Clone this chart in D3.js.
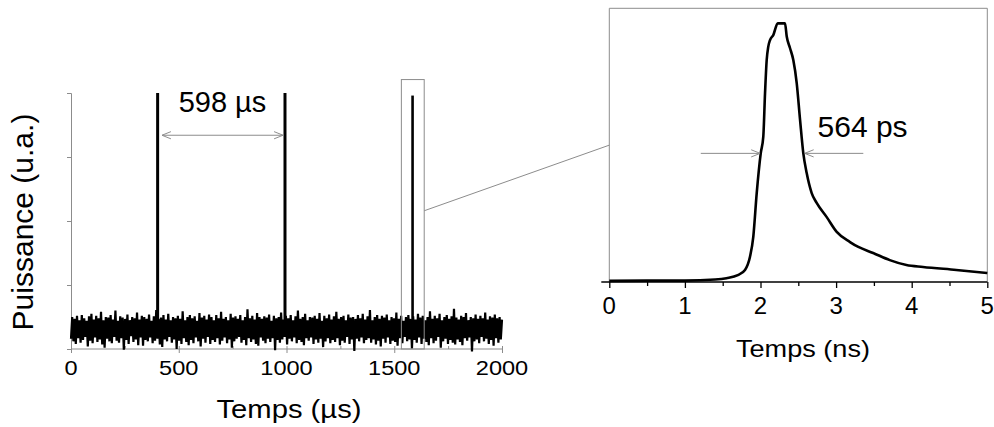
<!DOCTYPE html>
<html><head><meta charset="utf-8">
<script src="https://cdn.jsdelivr.net/npm/d3@7"></script>
<style>body{margin:0;background:#fff}svg{display:block}text{font-family:"Liberation Sans",Arial,sans-serif;fill:#000}</style>
</head><body><svg id="c" width="994" height="427"></svg>
<script>
// ---- Left panel data: pulse train (time in µs, power in a.u.) ----
const trainTicks = [0, 500, 1000, 1500, 2000];
const trainNoiseStep = 2000 / 359; // sampling step of the noise trace (µs)
const trainNoise = [
.16,.50,.12,.47,.08,.52,.17,.45,.10,.53,.14,.48,.19,.44,.04,.51,.13,.55,.09,.46,
.18,.52,.11,.48,.15,.58,.07,.45,.02,.50,.16,.49,.12,.53,.09,.46,.19,.60,.13,.44,
.10,.51,.17,.49,-.01,.47,.14,.54,.08,.45,.20,.50,.11,.48,.15,.57,.06,.46,.18,.52,
.05,.50,.14,.47,.12,.54,.18,.44,.09,.51,.13,.61,.16,.47,.07,.49,.03,.53,.15,.46,
.12,.55,.19,.45,.10,.50,.15,.48,.00,.52,.13,.47,.08,.59,.17,.45,.11,.50,.06,.53,
.14,.48,.09,.51,.18,.44,.12,.56,.04,.49,.16,.52,.10,.46,.19,.54,.08,.50,.14,.45,
.11,.53,.17,.48,.07,.58,.13,.47,.18,.50,.09,.45,.15,.55,.02,.49,.12,.51,.16,.47,
.19,.53,.10,.45,.14,.50,.06,.62,.17,.48,.11,.52,.15,.46,.08,.56,.05,.50,.18,.47,
.13,.51,.09,.49,.16,.54,.11,.44,.17,.52,-.02,.48,.14,.50,.10,.57,.15,.46,.19,.52,
.07,.48,.16,.53,.12,.45,.18,.51,.09,.60,.14,.47,.11,.50,.06,.55,.17,.45,.13,.50,
.18,.49,.08,.52,.15,.47,.10,.56,.16,.44,.03,.52,.12,.48,.17,.54,.09,.46,.14,.51,
.11,.58,.17,.47,.06,.50,.13,.52,.10,.45,.19,.54,.08,.49,.15,.50,-.03,.47,.16,.53,
.12,.48,.18,.55,.09,.46,.14,.51,.17,.61,.10,.45,.15,.50,.07,.53,.13,.47,.04,.52,
.16,.49,.10,.54,.18,.45,.08,.50,.13,.48,.11,.57,.05,.47,.17,.52,.09,.44,.19,.50,
.12,.53,.15,.47,.01,.51,.14,.46,.10,.55,.18,.49,.08,.52,.16,.45,.11,.50,.06,.59,
.17,.47,.09,.52,.13,.48,.19,.55,.02,.45,.12,.50,.16,.53,.08,.47,.14,.51,.10,.63,
.07,.49,.15,.46,.11,.52,.06,.50,.17,.56,.13,.45,.18,.50,-.04,.48,.12,.54,.15,.47,
.09,.52,.19,.48,.12,.57,.16,.46,.08,.51,.14,.49,.05,.54,.17,.48,.10,.50,.15,.46
];
const peakTimes = [402, 993, 1585];
const peakValues = [4.0, 4.0, 3.96];
const peakBase = 0.35;
const periodArrow = [424, 982];   // µs
const periodArrowLevel = 3.34;
const periodLabel = "598 µs";
const zoomBox = [1533, 1639, 0, 4.21]; // t0, t1, v0, v1
const zoomFrom = [1639, 2.16];

// ---- Right panel data: single pulse (time in ns) ----
const pulseTicks = [0, 1, 2, 3, 4, 5];
const pulseTime = [0,0.5,1.0,1.4,1.55,1.7,1.795,1.861,1.905,1.95,2.003,2.037,2.06,2.082,2.103,2.126,2.169,2.228,2.324,2.347,2.39,2.434,2.479,2.523,2.566,2.611,2.677,2.743,2.876,3.008,3.184,3.294,3.49,3.71,3.93,4.15,4.59,5.0];
const pulseValue = [0.004,0.005,0.005,0.009,0.014,0.025,0.044,0.092,0.166,0.325,0.47,0.531,0.69,0.811,0.86,0.884,0.902,0.945,0.945,0.897,0.855,0.811,0.727,0.593,0.471,0.398,0.325,0.289,0.237,0.183,0.146,0.128,0.106,0.08,0.062,0.055,0.044,0.033];
const fwhmLeft = [1.21, 1.99];
const fwhmRight = [3.36, 2.59];
const fwhmLevel = 0.47;
const fwhmLabel = "564 ps";
const zoomTo = [0, 0.5];

const svg = d3.select("#c");
const grey = "#8c8c8c";

svg.append("defs").append("marker").attr("id","arr").attr("viewBox","0 0 10 10")
  .attr("refX",9.5).attr("refY",5).attr("markerWidth",9).attr("markerHeight",9)
  .attr("markerUnits","userSpaceOnUse").attr("orient","auto-start-reverse")
  .append("path").attr("d","M0,1 L10,5 L0,9").attr("fill","none").attr("stroke",grey).attr("stroke-width",1.1);

// ===== Left panel =====
const xL = d3.scaleLinear().domain([0,2000]).range([71,502]);
const yL = d3.scaleLinear().domain([0,4]).range([349,93]);

const gyL = svg.append("g").attr("transform",`translate(${xL(0)},0)`)
  .call(d3.axisLeft(yL).tickValues([0,1,2,3,4]).tickSize(4).tickFormat(""));
gyL.selectAll("path,line").attr("stroke",grey);

const gxL = svg.append("g").attr("transform",`translate(0,${yL(0)})`)
  .call(d3.axisBottom(xL).tickValues(trainTicks).tickSize(4).tickFormat(""));
gxL.selectAll("path,line").attr("stroke",grey);
gxL.select(".domain").attr("d",`M${xL(0)},0H${xL(2000)}`);
gxL.selectAll(".tick line").attr("y1",-3);
svg.append("g").attr("transform",`translate(0,${yL(0)})`)
  .call(d3.axisBottom(xL).tickValues([250,750,1250,1750]).tickSize(-3).tickFormat(""))
  .call(g=>g.select(".domain").remove()).selectAll("line").attr("stroke",grey);
svg.append("g").selectAll("text").data(trainTicks).join("text")
  .attr("transform",d=>`translate(${xL(d)},375) scale(1.15,1)`)
  .attr("text-anchor","middle").attr("font-size",20.5).text(d=>d);

const noiseLine = d3.line().x((d,i)=>xL(i*trainNoiseStep)).y(d=>yL(d));
svg.append("path").datum(trainNoise).attr("d",noiseLine)
  .attr("fill","none").attr("stroke","#000").attr("stroke-width",2.2);

svg.append("g").selectAll("line").data(peakTimes).join("line")
  .attr("x1",d=>xL(d)).attr("x2",d=>xL(d))
  .attr("y1",yL(peakBase)).attr("y2",(d,i)=>yL(peakValues[i]))
  .attr("stroke","#000").attr("stroke-width",(d,i)=>i<2?3:2.6);

svg.append("line").attr("x1",xL(periodArrow[0])).attr("x2",xL(periodArrow[1]))
  .attr("y1",yL(periodArrowLevel)).attr("y2",yL(periodArrowLevel))
  .attr("stroke",grey).attr("stroke-width",1)
  .attr("marker-start","url(#arr)").attr("marker-end","url(#arr)");
svg.append("text").attr("x",xL(703)).attr("y",yL(3.70)).attr("text-anchor","middle")
  .attr("font-size",29).text(periodLabel);

svg.append("rect").attr("x",xL(zoomBox[0])).attr("y",yL(zoomBox[3]))
  .attr("width",xL(zoomBox[1])-xL(zoomBox[0])).attr("height",yL(zoomBox[2])-yL(zoomBox[3]))
  .attr("fill","none").attr("stroke",grey).attr("stroke-width",1);

svg.append("text").attr("transform","translate(289,418)").attr("text-anchor","middle")
  .attr("font-size",25).attr("textLength",145).attr("lengthAdjust","spacingAndGlyphs").text("Temps (µs)");
svg.append("text").attr("transform","translate(33,222) rotate(-90)").attr("text-anchor","middle")
  .attr("font-size",30).text("Puissance (u.a.)");

// ===== Right panel =====
const xR = d3.scaleLinear().domain([0,5]).range([609.3,987.3]);
const yR = d3.scaleLinear().domain([0,1]).range([282,8.3]);

svg.append("path").attr("d",`M${xR(0)},${yR(0)}V${yR(1)}H${xR(5)}V${yR(0)}`)
  .attr("fill","none").attr("stroke",grey).attr("stroke-width",1);

svg.append("line").attr("x1",xL(zoomFrom[0])).attr("y1",yL(zoomFrom[1]))
  .attr("x2",xR(zoomTo[0])).attr("y2",yR(zoomTo[1])).attr("stroke",grey).attr("stroke-width",1);

const gxR = svg.append("g").attr("transform",`translate(0,${yR(0)})`)
  .call(d3.axisBottom(xR).tickValues(pulseTicks).tickSize(6).tickFormat(""));
gxR.selectAll("path,line").attr("stroke","#000").attr("stroke-width",1.3);
gxR.select(".domain").attr("d",`M${xR(0)-8},0H${xR(5)}`);
svg.append("g").attr("transform",`translate(0,${yR(0)})`)
  .call(d3.axisBottom(xR).tickValues([0.5,1.5,2.5,3.5,4.5]).tickSize(4).tickFormat(""))
  .call(g=>g.select(".domain").remove()).selectAll("line").attr("stroke","#000").attr("stroke-width",1.3);
svg.append("g").selectAll("text").data(pulseTicks).join("text")
  .attr("x",d=>xR(d)).attr("y",314).attr("text-anchor","middle").attr("font-size",24).text(d=>d);

const pulseLine = d3.line().x((d,i)=>xR(pulseTime[i])).y(d=>yR(d)).curve(d3.curveMonotoneX);
svg.append("path").datum(pulseValue).attr("d",pulseLine)
  .attr("fill","none").attr("stroke","#000").attr("stroke-width",2.6).attr("stroke-linejoin","round");

[fwhmLeft, fwhmRight].forEach(a=>{
  svg.append("line").attr("x1",xR(a[0])).attr("x2",xR(a[1]))
    .attr("y1",yR(fwhmLevel)).attr("y2",yR(fwhmLevel))
    .attr("stroke",grey).attr("stroke-width",1).attr("marker-end","url(#arr)");
});
svg.append("text").attr("x",xR(3.35)).attr("y",yR(0.53)).attr("text-anchor","middle")
  .attr("font-size",30).text(fwhmLabel);

svg.append("text").attr("transform","translate(803,357)").attr("text-anchor","middle")
  .attr("font-size",24).attr("textLength",134).attr("lengthAdjust","spacingAndGlyphs").text("Temps (ns)");
</script></body></html>
